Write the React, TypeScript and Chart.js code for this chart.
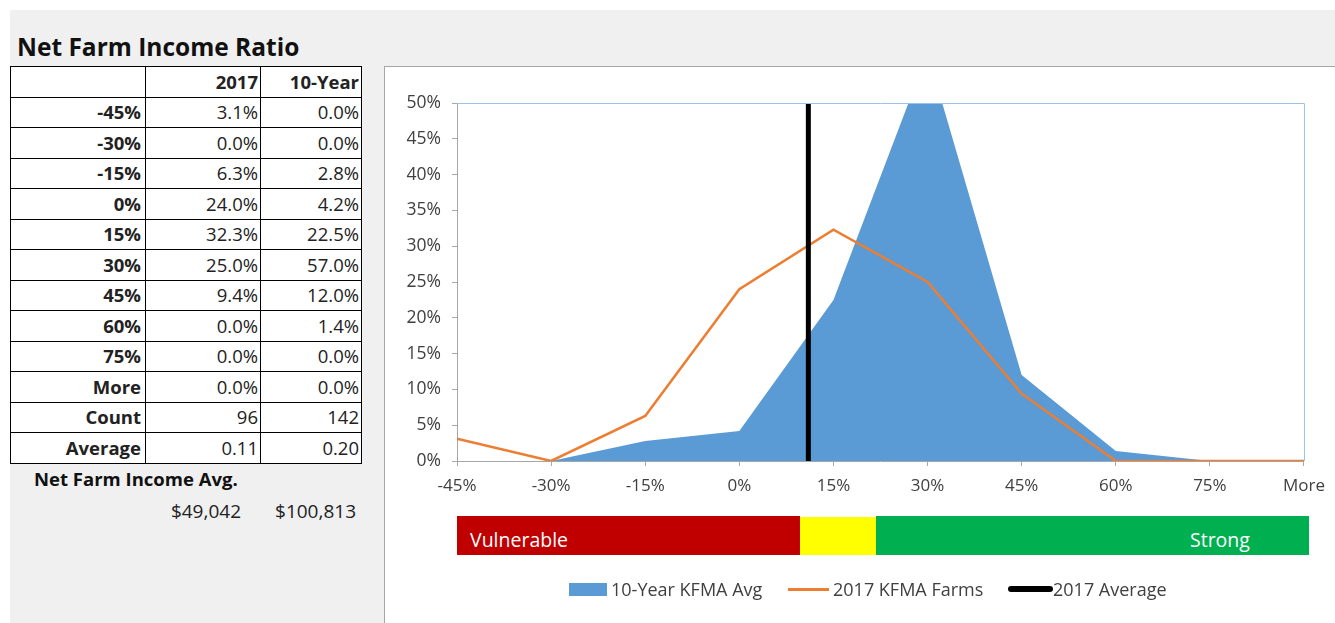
import React, { useEffect, useRef } from 'react';
import { Chart, registerables } from 'chart.js';

Chart.register(...registerables);

// ---- data ----
const binLabels = ['-45%', '-30%', '-15%', '0%', '15%', '30%', '45%', '60%', '75%', 'More'];
const binValues = [-45, -30, -15, 0, 15, 30, 45, 60, 75, 90];
const farms2017 = [3.1, 0.0, 6.3, 24.0, 32.3, 25.0, 9.4, 0.0, 0.0, 0.0];
const tenYearAvg = [0.0, 0.0, 2.8, 4.2, 22.5, 57.0, 12.0, 1.4, 0.0, 0.0];
const tableHeaders = ['', '2017', '10-Year'];
const counts = ['96', '142'];
const averages = [0.11, 0.2];
const netIncomeAvg = ['$49,042', '$100,813'];
const yMin = 0;
const yMax = 50;
const yStep = 5;
const legendLabels = ['10-Year KFMA Avg', '2017 KFMA Farms', '2017 Average'];
const bandLabels = ['Vulnerable', 'Strong'];

const FONT = '"Open Sans", Lato, "DejaVu Sans", sans-serif';
const TEXT = '#404040';

const plotBorder = {
  id: 'plotBorder',
  afterDatasetsDraw(chart: any) {
    const { ctx, chartArea } = chart;
    ctx.save();
    ctx.strokeStyle = '#9dc3e6';
    ctx.lineWidth = 1;
    ctx.beginPath();
    ctx.moveTo(chartArea.left, chartArea.top + 0.5);
    ctx.lineTo(chartArea.right + 0.5, chartArea.top + 0.5);
    ctx.lineTo(chartArea.right + 0.5, chartArea.bottom);
    ctx.stroke();
    ctx.restore();
  },
};

function ChartPanel() {
  const ref = useRef<HTMLCanvasElement | null>(null);
  useEffect(() => {
    if (!ref.current) return;
    const avgX = averages[0] * 100;
    const chart = new Chart(ref.current, {
      type: 'line',
      data: {
        datasets: [
          {
            label: legendLabels[2],
            data: [
              { x: avgX, y: yMin },
              { x: avgX, y: yMax },
            ],
            borderColor: '#000000',
            borderWidth: 5,
            pointRadius: 0,
            fill: false,
            order: 0,
          },
          {
            label: legendLabels[1],
            data: binValues.map((x, i) => ({ x, y: farms2017[i] })),
            borderColor: '#ed7d31',
            borderWidth: 2.5,
            pointRadius: 0,
            fill: false,
            tension: 0,
            order: 1,
          },
          {
            label: legendLabels[0],
            data: binValues.map((x, i) => ({ x, y: tenYearAvg[i] })),
            borderColor: '#5b9bd5',
            borderWidth: 0,
            backgroundColor: '#5b9bd5',
            pointRadius: 0,
            fill: 'origin',
            tension: 0,
            order: 2,
          },
        ],
      },
      options: {
        animation: false,
        responsive: false,
        layout: { padding: { top: 36, right: 28, left: 0, bottom: 0 } },
        plugins: { legend: { display: false }, tooltip: { enabled: false } },
        scales: {
          x: {
            type: 'linear',
            min: binValues[0],
            max: binValues[binValues.length - 1],
            afterBuildTicks: (s: any) => {
              s.ticks = binValues.map((v) => ({ value: v }));
            },
            ticks: {
              autoSkip: false,
              maxRotation: 0,
              padding: 10,
              color: TEXT,
              font: { family: FONT, size: 17 },
              callback: (v: any) => {
                const i = binValues.indexOf(Number(v));
                return i >= 0 ? binLabels[i] : '';
              },
            },
            grid: { drawOnChartArea: false, tickLength: 5, color: '#a6a6a6' },
            border: { color: '#a6a6a6' },
            afterFit: (s: any) => {
              s.height = 162;
            },
          },
          y: {
            min: yMin,
            max: yMax,
            ticks: {
              stepSize: yStep,
              padding: 11,
              color: TEXT,
              font: { family: FONT, size: 17.5 },
              callback: (v: any) => `${v}%`,
            },
            grid: { drawOnChartArea: false, tickLength: 5, color: '#a6a6a6' },
            border: { color: '#a6a6a6' },
            afterFit: (s: any) => {
              s.width = 72;
            },
          },
        },
      },
      plugins: [plotBorder],
    } as any);
    return () => chart.destroy();
  }, []);
  return (
    <canvas
      ref={ref}
      width={950}
      height={556}
      style={{ position: 'absolute', left: 385, top: 67, width: 950, height: 556 }}
    />
  );
}

const cellBase: React.CSSProperties = {
  border: '1.5px solid #000',
  textAlign: 'right',
  padding: '0 2px 0 0',
  background: '#fff',
  color: '#222',
  fontFamily: FONT,
  fontSize: 18.5,
  lineHeight: '18px',
  whiteSpace: 'nowrap',
  overflow: 'hidden',
};

export default function App() {
  const rows: string[][] = binLabels.map((l, i) => [
    l,
    `${farms2017[i].toFixed(1)}%`,
    `${tenYearAvg[i].toFixed(1)}%`,
  ]);
  rows.push(['Count', counts[0], counts[1]]);
  rows.push(['Average', averages[0].toFixed(2), averages[1].toFixed(2)]);

  return (
    <div
      style={{
        position: 'absolute',
        left: 0,
        top: 0,
        width: 1335,
        height: 623,
        background: '#ffffff',
        fontFamily: FONT,
        overflow: 'hidden',
      }}
    >
      <div style={{ position: 'absolute', left: 10, top: 10, width: 1325, height: 613, background: '#f0f0f0' }} />
      <div
        style={{
          position: 'absolute',
          left: 17,
          top: 31,
          fontSize: 24.5,
          fontWeight: 700,
          color: '#111',
          lineHeight: '32px',
          whiteSpace: 'nowrap',
        }}
      >
        Net Farm Income Ratio
      </div>
      <table
        style={{
          position: 'absolute',
          left: 10,
          top: 66,
          width: 351,
          height: 397,
          borderCollapse: 'collapse',
          tableLayout: 'fixed',
        }}
      >
        <colgroup>
          <col style={{ width: 135 }} />
          <col style={{ width: 115 }} />
          <col style={{ width: 101 }} />
        </colgroup>
        <tbody>
          <tr style={{ height: 30.5 }}>
            {tableHeaders.map((h, i) => (
              <td key={i} style={{ ...cellBase, fontWeight: 700 }}>
                {h}
              </td>
            ))}
          </tr>
          {rows.map((r, ri) => (
            <tr key={ri} style={{ height: 30.5 }}>
              {r.map((c, ci) => (
                <td
                  key={ci}
                  style={{ ...cellBase, fontWeight: ci === 0 ? 700 : 400, paddingRight: ci === 0 ? 4 : 2 }}
                >
                  {c}
                </td>
              ))}
            </tr>
          ))}
        </tbody>
      </table>
      <div
        style={{
          position: 'absolute',
          left: 34,
          top: 467,
          fontSize: 18.5,
          fontWeight: 700,
          color: '#111',
          lineHeight: '24px',
          whiteSpace: 'nowrap',
        }}
      >
        Net Farm Income Avg.
      </div>
      <div style={{ position: 'absolute', right: 1335 - 241, top: 499, fontSize: 19, color: '#222', lineHeight: '24px' }}>
        {netIncomeAvg[0]}
      </div>
      <div style={{ position: 'absolute', right: 1335 - 356, top: 499, fontSize: 19, color: '#222', lineHeight: '24px' }}>
        {netIncomeAvg[1]}
      </div>

      <div
        style={{
          position: 'absolute',
          left: 384,
          top: 66,
          width: 951,
          height: 557,
          background: '#ffffff',
          borderLeft: '1px solid #a6a6a6',
          borderTop: '1px solid #a6a6a6',
          boxSizing: 'border-box',
        }}
      />
      <ChartPanel />

      {/* strength band */}
      <div style={{ position: 'absolute', left: 457, top: 516, width: 343, height: 39, background: '#c00000' }} />
      <div style={{ position: 'absolute', left: 800, top: 517, width: 76, height: 38, background: '#ffff00' }} />
      <div style={{ position: 'absolute', left: 876, top: 516, width: 433, height: 39, background: '#00b050' }} />
      <div
        style={{ position: 'absolute', left: 470, top: 528, fontSize: 19.5, color: '#fff', lineHeight: '24px' }}
      >
        {bandLabels[0]}
      </div>
      <div
        style={{ position: 'absolute', left: 1190, top: 528, fontSize: 19.5, color: '#fff', lineHeight: '24px' }}
      >
        {bandLabels[1]}
      </div>

      {/* legend */}
      <div style={{ position: 'absolute', left: 569, top: 583, width: 38, height: 13, background: '#5b9bd5' }} />
      <div style={{ position: 'absolute', left: 611, top: 577, fontSize: 18, color: TEXT, lineHeight: '24px', whiteSpace: 'nowrap' }}>
        {legendLabels[0]}
      </div>
      <div style={{ position: 'absolute', left: 788, top: 588, width: 41, height: 3, background: '#ed7d31' }} />
      <div style={{ position: 'absolute', left: 833, top: 577, fontSize: 18, color: TEXT, lineHeight: '24px', whiteSpace: 'nowrap' }}>
        {legendLabels[1]}
      </div>
      <div
        style={{ position: 'absolute', left: 1008, top: 586, width: 45, height: 6, background: '#000', borderRadius: 3 }}
      />
      <div style={{ position: 'absolute', left: 1053, top: 577, fontSize: 18, color: TEXT, lineHeight: '24px', whiteSpace: 'nowrap' }}>
        {legendLabels[2]}
      </div>
    </div>
  );
}
